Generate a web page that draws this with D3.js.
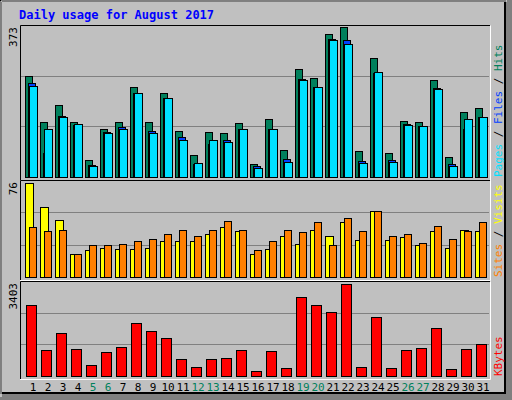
<!DOCTYPE html>
<html><head><meta charset="utf-8">
<script src="https://cdn.jsdelivr.net/npm/d3@7"></script>
<style>body{margin:0;background:#fff}</style>
</head><body>
<script>
// daily values
var days = d3.range(1, 32);
var weekend = [5, 6, 12, 13, 19, 20, 26, 27];
var hits  = [248,134,177,136,42,119,134,221,134,206,112,55,110,107,132,32,142,67,266,244,351,368,65,293,60,137,134,238,50,159,169];
var files = [231,60,149,127,30,110,122,206,114,194,97,32,82,92,117,27,119,45,241,221,338,336,40,256,42,129,124,219,32,119,147];
var pages = [224,119,147,129,27,107,117,206,109,194,92,35,92,87,117,22,119,37,238,221,335,326,35,258,37,127,124,216,27,142,147];
var visits = [74,55,45,18,21,23,22,22,23,28,28,28,34,39,36,18,22,32,26,37,32,43,29,52,29,31,25,36,23,37,36];
var sites  = [39,36,37,18,25,25,26,28,30,34,37,32,37,44,37,21,28,37,35,43,25,46,36,52,32,34,27,40,30,36,43];
var kbytes = [2543,931,1540,967,394,860,1039,1899,1612,1361,609,322,609,645,931,179,895,286,2830,2543,2293,3296,322,2114,286,931,1003,1719,250,967,1146];
var maxLabels = ["373", "76", "3403"];

var W = 512, H = 400;
var svg = d3.select("body").append("svg").attr("width", W).attr("height", H)
    .style("font-family", "DejaVu Sans Mono, monospace");

// frame
svg.append("rect").attr("width", W).attr("height", H).attr("fill", "#808080");
svg.append("rect").attr("width", W - 6).attr("height", H - 6).attr("fill", "#000");
svg.append("rect").attr("x", 2).attr("y", 2).attr("width", W - 10).attr("height", H - 10).attr("fill", "#c0c0c0");
svg.append("path").attr("d", "M1,397V1H507").attr("stroke", "#fff").attr("fill", "none");

svg.append("text").attr("x", 19).attr("y", 19).attr("fill", "#0000ff")
    .style("font-weight", "bold").style("font-size", "12px").text("Daily usage for August 2017");

var x = d3.scaleBand().domain(days).range([25, 490]).paddingInner(0).paddingOuter(0);
x.range([25, 25 + 15 * 31]);

var panels = [
  {top: 25, bottom: 177, max: 373},
  {top: 180, bottom: 277, max: 76},
  {top: 281, bottom: 376, max: 3403}
];

panels.forEach(function(p, k) {
    svg.append("rect").attr("x", 20).attr("y", p.top).attr("width", 470).attr("height", p.bottom - p.top + 3)
        .attr("fill", "#c0c0c0");
    p.y = d3.scaleLinear().domain([0, p.max]).range([p.bottom, p.top]);
    [1, 2].forEach(function(f) {
        var gy = Math.round(p.y(p.max * f / 3)) + 0.5;
        svg.append("line").attr("x1", 21).attr("x2", 489).attr("y1", gy).attr("y2", gy)
            .attr("stroke", "#808080");
    });
    svg.append("path").attr("d", "M20.5," + (p.bottom + 3) + "V" + (p.top + 0.5) + "H490")
        .attr("stroke", "#000").attr("fill", "none");
    svg.append("path").attr("d", "M490.5," + (p.top + 0.5) + "V" + (p.bottom + 3.5) + "H20")
        .attr("stroke", "#fff").attr("fill", "none");
    svg.append("text").attr("transform", "translate(17," + (p.top + 2) + ") rotate(-90)")
        .attr("text-anchor", "end").style("font-size", "11px").attr("fill", "#000").text(maxLabels[k]);
});

function bars(vals, p, dx, w, color) {
    svg.append("g").selectAll("rect").data(vals).enter().append("rect")
        .attr("x", function(d, i) { return x(days[i]) + dx + 0.5; })
        .attr("y", function(d) { return Math.round(p.y(d)) + 0.5; })
        .attr("width", w)
        .attr("height", function(d) { return p.bottom - Math.round(p.y(d)); })
        .attr("fill", color).attr("stroke", "#000");
}
bars(hits, panels[0], 0, 7, "#00805c");
bars(files, panels[0], 3, 7, "#0040ff");
bars(pages, panels[0], 4, 8, "#00e0ff");
bars(visits, panels[1], 0, 8, "#ffff00");
bars(sites, panels[1], 4, 7, "#ff8000");
bars(kbytes, panels[2], 1, 10, "#ff0000");

// day labels
svg.append("g").selectAll("text").data(days).enter().append("text")
    .attr("x", function(d) { return x(d) + 8; }).attr("y", 391)
    .attr("text-anchor", "middle").style("font-size", "11px")
    .attr("fill", function(d) { return weekend.indexOf(d) >= 0 ? "#00805c" : "#000"; })
    .text(function(d) { return d; });

// right legends (rotated)
function legend(yBottom, parts) {
    var t = svg.append("text").attr("transform", "translate(502," + yBottom + ") rotate(-90)")
        .style("font-size", "11px");
    parts.forEach(function(pp) { t.append("tspan").attr("fill", pp[1]).text(pp[0]); });
}
legend(177, [["Pages", "#00e0ff"], [" / ", "#000"], ["Files", "#0040ff"], [" / ", "#000"], ["Hits", "#00805c"]]);
legend(277, [["Sites", "#ff8000"], [" / ", "#000"], ["Visits", "#ffff00"]]);
legend(376, [["KBytes", "#ff0000"]]);
</script>
</body></html>
